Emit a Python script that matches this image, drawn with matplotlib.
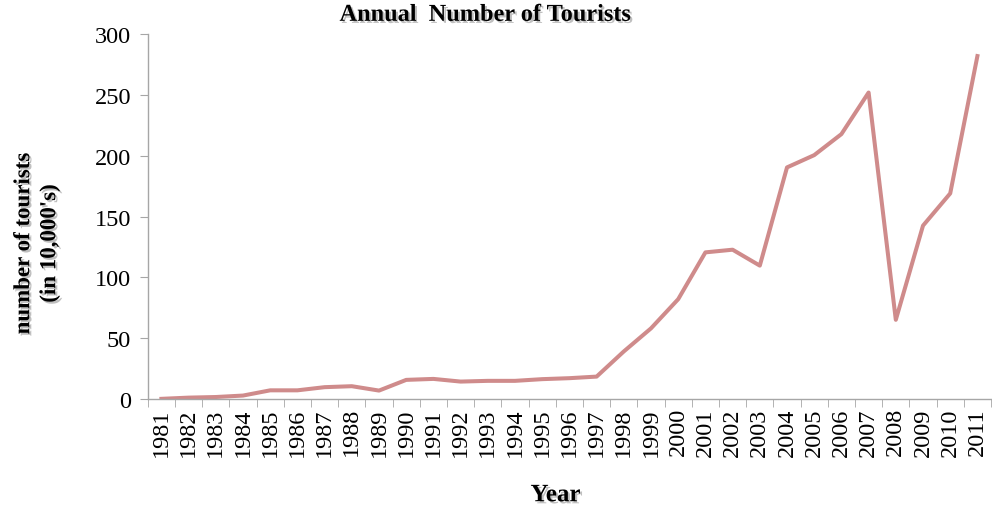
import matplotlib
matplotlib.use('Agg')
from matplotlib import pyplot as plt
import matplotlib.patheffects as pe
import numpy as np

# Data
years = [str(y) for y in range(1981, 2012)]
tourists = [0, 1, 1.5, 2.7, 7, 7, 9.6, 10.4, 6.8, 15.6, 16.4, 14.2, 14.8, 14.8,
            16.2, 17, 18.3, 39, 58, 82, 120.5, 122.7, 109.6, 190.4, 200.5, 217.8,
            252, 65, 142.5, 169, 282]

# Plot aspects
line_color = '#CF8B8B'
axis_color = '#A6A6A6'
serif = ['Liberation Serif', 'DejaVu Serif']
plt.rcParams['font.family'] = serif

fig = plt.figure(figsize=(9.92, 5.10), dpi=100)
ax = fig.add_axes([0.149, 0.216, 0.850, 0.715])

x = np.arange(len(years))
ax.plot(x, tourists, color=line_color, linewidth=2.9, solid_joinstyle='round')

ax.set_xlim(-0.5, len(years) - 0.5)
ax.set_ylim(0, 300)
ax.set_yticks(range(0, 301, 50))
ax.set_xticks(x)
ax.set_xticklabels(years, rotation=90, fontsize=17.5)
ax.set_xticks(np.arange(-0.5, len(years), 1), minor=True)
ax.tick_params(axis='x', which='major', length=0, pad=6)
ax.tick_params(axis='x', which='minor', length=6, color=axis_color, direction='out')
ax.tick_params(axis='y', which='major', length=6, color=axis_color, labelsize=17.5, pad=6)

for side in ['top', 'right']:
    ax.spines[side].set_visible(False)
for side in ['left', 'bottom']:
    ax.spines[side].set_color(axis_color)
    ax.spines[side].set_linewidth(1.0)

shadow = [pe.SimplePatchShadow(offset=(1.5, -1.5), shadow_rgbFace='#808080', alpha=0.5), pe.Normal()]
fig.text(0.489, 0.968, 'Annual  Number of Tourists', ha='center', va='center',
         fontsize=17.5, fontweight='bold', path_effects=shadow)
fig.text(0.037, 0.52, "number of tourists\n(in 10,000's)", ha='center', va='center',
         rotation=90, fontsize=16.5, fontweight='bold', linespacing=1.3, path_effects=shadow)
fig.text(0.56, 0.028, 'Year', ha='center', va='center',
         fontsize=18, fontweight='bold', path_effects=shadow)

fig.savefig('out.png', dpi=100)
